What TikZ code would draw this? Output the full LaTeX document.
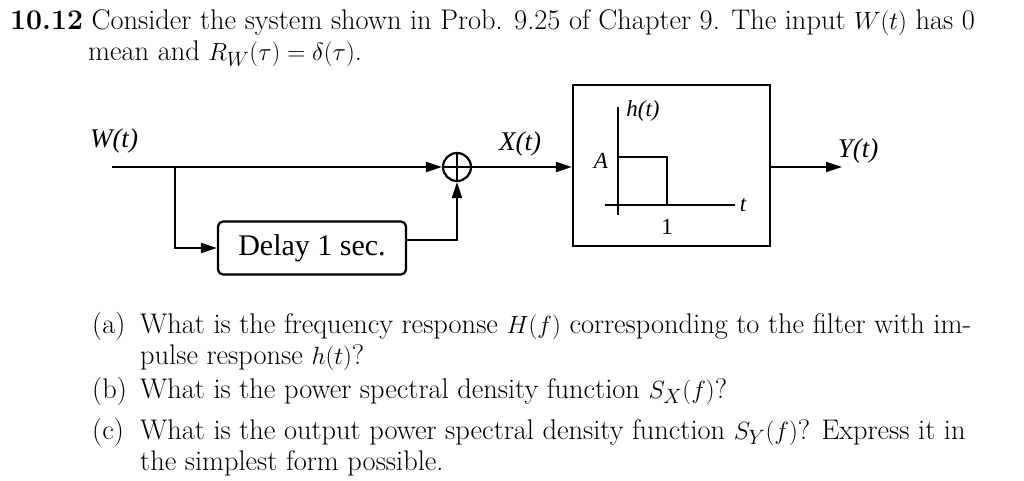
\documentclass[tikz,border=0pt]{standalone}
\usepackage{fontspec}
\newfontfamily\tms{Liberation Serif}
\usetikzlibrary{arrows.meta}
\begin{document}
\begin{tikzpicture}[x=1pt,y=-1pt,
  txt/.style={anchor=base west,inner sep=0,font=\fontsize{28.4}{32}\selectfont},
  lbl/.style={font=\tms\itshape\fontsize{27}{30}\selectfont,inner sep=0},
  sm/.style={font=\tms\itshape\fontsize{23}{26}\selectfont,inner sep=0},
  ln/.style={line width=2.2pt},
  arr/.style={ln,-{Triangle[length=16pt,width=10pt]}}]
\useasboundingbox (0,0) rectangle (1024,481);
\node[txt] (l1) at (10,30) {\textbf{10.12} Consider the system shown in Prob. 9.25 of Chapter 9. The input $W(t)$ has 0};
\node[txt] (l2) at (88,61) {mean and $R_W(\tau)=\delta(\tau)$.};
\node[txt] (a0) at (92,333) {(a)};
\node[txt] (a1) at (140,333) {What is the frequency response $H(f)$ corresponding to the filter with im-};
\node[txt] (a2) at (140,364) {pulse response $h(t)$?};
\node[txt] (b0) at (92,398) {(b)};
\node[txt] (b1) at (140,398) {What is the power spectral density function $S_X(f)$?};
\node[txt] (c0) at (92,439) {(c)};
\node[txt] (c1) at (140,439) {What is the output power spectral density function $S_Y(f)$? Express it in};
\node[txt] (c2) at (140,470) {the simplest form possible.};
% diagram
\coordinate (in) at (112,167);
\coordinate (br) at (175,167);
\node[circle,draw,ln,minimum size=28pt,inner sep=0] (sum) at (457,167) {};
\draw[ln] (sum.north)--(sum.south) (sum.west)--(sum.east);
\node[draw,ln,rounded corners=5pt,minimum width=188pt,minimum height=53pt,font=\tms\fontsize{30}{34}\selectfont] (del) at (312,248) {Delay 1 sec.};
\node[draw,ln,minimum width=197pt,minimum height=161pt] (h) at (671.5,165.5) {};
\coordinate (out) at (842,167);
\draw[arr] (in)--(sum.west);
\draw[arr] (br)|-(del.west);
\draw[arr] (del.east |- 0,240) -| (sum.south);
\draw[arr] (sum.east)--(h.west |- sum);
\draw[arr] (h.east |- sum)--(out);
\node[lbl] (w) at (114,141) {W(t)};
\node[lbl] (x) at (520,144) {X(t)};
\node[lbl] (y) at (858,151) {Y(t)};
% inner plot
\draw[ln] (618,107)--(618,215);
\draw[ln] (605,205)--(735,205);
\draw[ln] (618,157)--(667,157)--(667,205);
\node[sm] (ht) at (643,111) {h(t)};
\node[sm] (A) at (601,161) {A};
\node[sm] (t) at (743,205) {t};
\node[sm,font=\tms\fontsize{23}{26}\selectfont] (one) at (667,227) {1};
\end{tikzpicture}
\end{document}
